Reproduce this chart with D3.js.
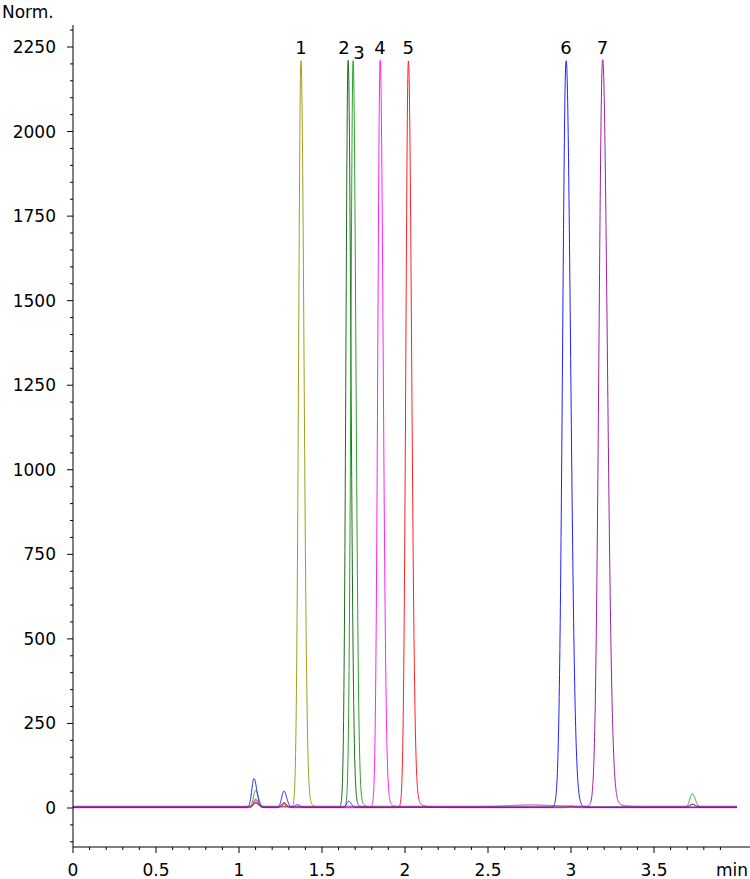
<!DOCTYPE html>
<html><head><meta charset="utf-8">
<script src="https://cdn.jsdelivr.net/npm/d3@7"></script>
<style>body{margin:0;background:#fff}svg{font-family:"DejaVu Sans",Verdana,sans-serif}</style>
</head><body>
<svg id="c" width="750" height="879"></svg>
<script>
// one trace per compound: main peak + small impurity peaks [time, height, sigma]
const traceNames = ['1', '2', '3', '4', '5', '6', '7'];
const traceColors = ['#a0a01e', '#1e6e1e', '#2ea02e', '#ff20ff', '#ff2020', '#2020ff', '#a020a0'];
const mainTimes = [1.373, 1.657, 1.687, 1.85, 2.02, 2.97, 3.19];
const mainHeights = [2205, 2205, 2205, 2205, 2205, 2205, 2205];
const mainSigma = [0.014, 0.013, 0.013, 0.014, 0.015, 0.021, 0.022];
const mainTail = [0.025, 0.02, 0.025, 0.025, 0.035, 0.025, 0.035];
const labelShift = [0, -4, 6, 0, 0, 0, 0];
const minorPeaks = [
  [[1.1, 15, 0.012], [1.27, 8, 0.012]],
  [[1.1, 12, 0.012], [3.73, 8, 0.012]],
  [[1.1, 50, 0.013], [1.27, 10, 0.012], [3.73, 40, 0.014]],
  [[1.1, 20, 0.012], [1.27, 12, 0.012]],
  [[1.1, 25, 0.012], [1.27, 15, 0.012], [3.0, 5, 0.012]],
  [[1.09, 85, 0.013], [1.27, 48, 0.013], [1.35, 8, 0.012], [1.66, 18, 0.012]],
  [[1.1, 10, 0.012], [2.75, 4, 0.1], [3.73, 6, 0.012]]
];
const baseline = [2, 3, 2, 3, 1, 2, 5];
const xTicks = [0, 0.5, 1, 1.5, 2, 2.5, 3, 3.5];
const yTicks = [0, 250, 500, 750, 1000, 1250, 1500, 1750, 2000, 2250];

const svg = d3.select('#c');
const x = d3.scaleLinear().domain([0, 4]).range([73, 737]);
const y = d3.scaleLinear().domain([0, 2250]).range([808, 47]);
const axisY = 847;

// asymmetric gaussian with a small exponential tail
function peak(t, t0, h, s, tau) {
  const d = t - t0;
  if (d <= 0) return h * Math.exp(-d * d / (2 * s * s));
  const sr = s * 1.3;
  const g = h * Math.exp(-d * d / (2 * sr * sr));
  const e = h * 0.04 * Math.exp(-d / tau) * (1 - Math.exp(-d / s));
  return g + e;
}
const ts = d3.range(0, 4.0001, 0.001);
const line = d3.line().x(d => x(d[0])).y(d => y(d[1]));

traceNames.forEach((n, i) => {
  const pts = ts.map(t => {
    let v = baseline[i] + peak(t, mainTimes[i], mainHeights[i], mainSigma[i], mainTail[i]);
    minorPeaks[i].forEach(p => { v += peak(t, p[0], p[1], p[2], 0.01); });
    return [t, v];
  });
  svg.append('path').attr('d', line(pts)).attr('fill', 'none')
    .attr('stroke', traceColors[i]).attr('stroke-width', 1);
  svg.append('text').attr('x', x(mainTimes[i]) + labelShift[i]).attr('y', i === 2 ? 59 : 54)
    .attr('text-anchor', 'middle').attr('font-size', 18).text(n);
});

// axes
const ax = svg.append('g').attr('stroke', '#000');
ax.append('line').attr('x1', 73).attr('x2', 73).attr('y1', 25).attr('y2', axisY);
ax.append('line').attr('x1', 73).attr('x2', 750).attr('y1', axisY).attr('y2', axisY);
d3.range(0, 3.951, 0.1).forEach(t => {
  const major = Math.abs(t * 2 - Math.round(t * 2)) < 1e-6;
  ax.append('line').attr('x1', x(t)).attr('x2', x(t)).attr('y1', axisY).attr('y2', axisY + (major ? 6 : 3));
});
d3.range(-100, 2301, 50).forEach(v => {
  const major = v % 250 === 0;
  ax.append('line').attr('x1', 73).attr('x2', 73 - (major ? 6 : 3)).attr('y1', y(v)).attr('y2', y(v));
});
svg.selectAll('.xl').data(xTicks).join('text')
  .attr('x', d => x(d)).attr('y', 876).attr('text-anchor', 'middle')
  .attr('font-size', 17).text(d => d);
svg.append('text').attr('x', 716).attr('y', 876).attr('font-size', 17).text('min');
svg.selectAll('.yl').data(yTicks).join('text')
  .attr('x', 56).attr('y', d => y(d) + 6).attr('text-anchor', 'end')
  .attr('font-size', 17).text(d => d);
svg.append('text').attr('x', 2).attr('y', 18).attr('font-size', 17).text('Norm.');
</script>
</body></html>
